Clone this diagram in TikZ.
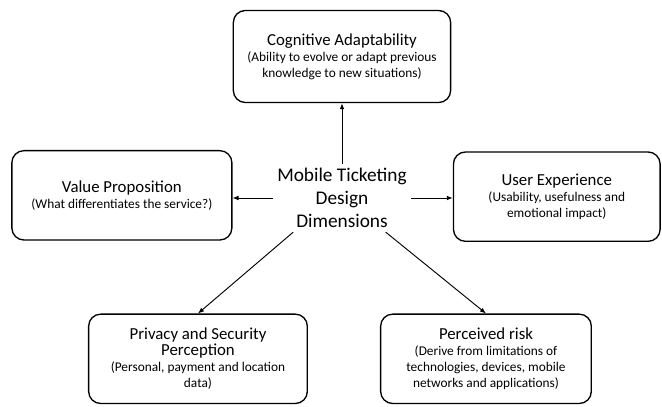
\documentclass[tikz,border=0pt]{standalone}
\usepackage{fontspec}
\setmainfont{Carlito}
\usetikzlibrary{arrows.meta, positioning}

\newcommand{\dimtitle}[1]{{\fontsize{12.6}{15.5}\selectfont #1}}
\newcommand{\dimnote}[1]{{\fontsize{10}{12}\selectfont #1}}

\begin{document}
\begin{tikzpicture}[
        node distance=30pt,
        box/.style={draw, rounded corners=9pt, align=center, line width=1pt, minimum height=67pt},
        arrow/.style={-{Latex[length=4.5pt, width=3.5pt]}, line width=0.7pt}
    ]
    \useasboundingbox (-256.5pt,-156.75pt) rectangle (240pt,148.5pt);

    % Centre label
    \node[align=center, font=\fontsize{14.5}{17}\selectfont] (dims) {Mobile Ticketing\\Design\\Dimensions};

    % Dimensions
    \node[box, minimum width=163pt, minimum height=69pt, above=45.5pt of dims] (adapt) {\dimtitle{Cognitive Adaptability}\\ \dimnote{(Ability to evolve or adapt previous}\\ \dimnote{knowledge to new situations)}};
    \node[box, minimum width=165pt, left=30pt of dims, yshift=2pt] (value) {\dimtitle{Value Proposition}\\ \dimnote{(What differentiates the service?)}};
    \node[box, minimum width=155pt, right=31pt of dims, yshift=1pt] (ux) {\dimtitle{User Experience}\\ \dimnote{(Usability, usefulness and}\\ \dimnote{emotional impact)}};
    \node[box, minimum width=164pt, below=61pt of dims, xshift=-108pt] (privacy) {\dimtitle{Privacy and Security}\\ \dimtitle{Perception}\\ \dimnote{(Personal, payment and location}\\ \dimnote{data)}};
    \node[box, minimum width=158pt, below=61pt of dims, xshift=108pt] (risk) {\dimtitle{Perceived risk}\\ \dimnote{(Derive from limitations of}\\ \dimnote{technologies, devices, mobile}\\ \dimnote{networks and applications)}};

    % Arrows
    \draw[arrow] (dims) -- (adapt);
    \draw[arrow] (dims.west) -- (value.east |- dims.west);
    \draw[arrow] (dims.east) -- (ux.west |- dims.east);
    \draw[arrow] (dims.215) -- (privacy.north);
    \draw[arrow] (dims.-38) -- (risk.north);
\end{tikzpicture}
\end{document}
